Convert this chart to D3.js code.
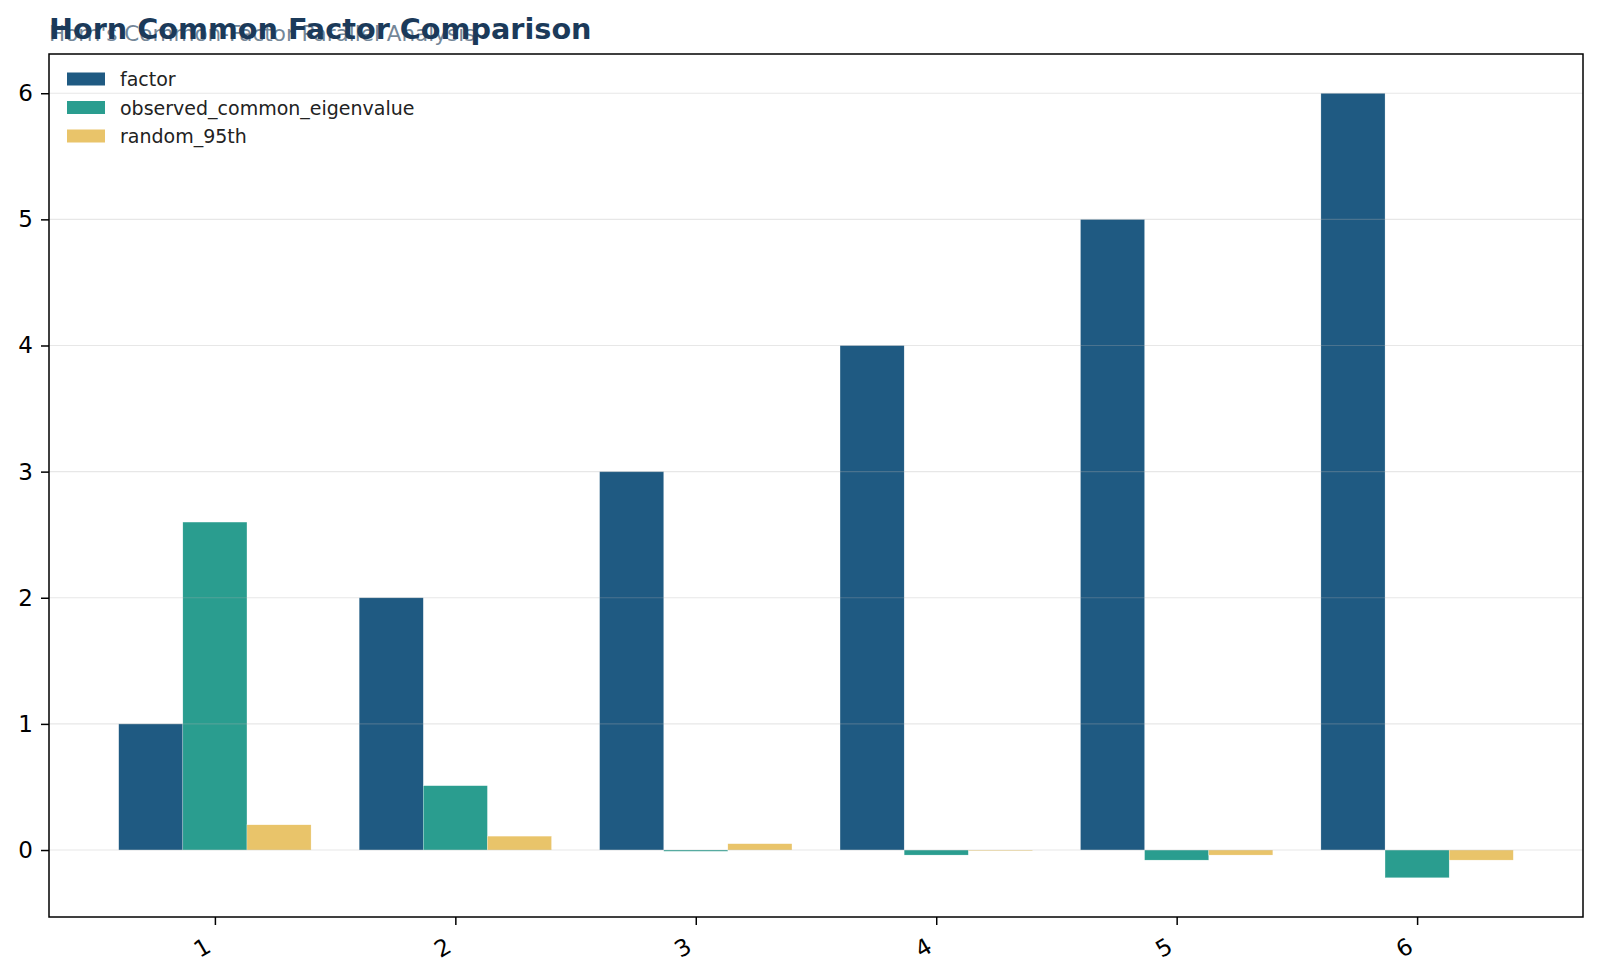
<!DOCTYPE html>
<html><head><meta charset="utf-8">
<script src="https://cdn.jsdelivr.net/npm/d3@7"></script>
<style>body{margin:0;background:#fff}svg{display:block;font-family:"DejaVu Sans",sans-serif}</style>
</head><body><svg id="c" width="1600" height="978"></svg>
<script>
const categories = ["1","2","3","4","5","6"];
const seriesNames = ["factor","observed_common_eigenvalue","random_95th"];
const factor = [1,2,3,4,5,6];
const observed = [2.60,0.51,-0.01,-0.04,-0.08,-0.22];
const random95 = [0.20,0.11,0.05,-0.005,-0.04,-0.08];
const yTicks = [0,1,2,3,4,5,6];
const colors = ["#1f5a82","#2a9d8f","#e9c46a"];
const series = [factor, observed, random95];

const FONT = "DejaVu Sans";
const svg = d3.select("#c");
const L=49,R=1583,T=54,B=917;
const x = d3.scaleLinear().domain([-0.69,5.69]).range([L,R]);
const y = d3.scaleLinear().domain([-0.531,6.311]).range([B,T]);
const bw = 0.8/3;

const gBars = svg.append("g");
series.forEach((vals,si)=>{
  gBars.selectAll(null).data(vals).enter().append("rect")
    .attr("x",(d,i)=>x(i-0.4+si*bw))
    .attr("width",x(bw)-x(0))
    .attr("y",d=>y(Math.max(0,d)))
    .attr("height",d=>Math.abs(y(d)-y(0)))
    .attr("fill",colors[si])
    .attr("stroke","#fff").attr("stroke-width",0.4).attr("stroke-opacity",0.6);
});
// grid over bars
svg.append("g").selectAll("line").data(yTicks).enter().append("line")
  .attr("x1",L).attr("x2",R).attr("y1",d=>y(d)).attr("y2",d=>y(d))
  .attr("stroke","#b0b0b0").attr("stroke-opacity",0.3).attr("stroke-width",1.2);

// axes
const yAxis = d3.axisLeft(y).tickValues(yTicks).tickSize(8).tickPadding(8).tickFormat(d3.format("d"));
const gy = svg.append("g").attr("transform",`translate(${L},0)`).call(yAxis)
  .attr("font-family",FONT).attr("font-size",23);
gy.select(".domain").remove();
gy.selectAll("line").attr("stroke","#000").attr("stroke-width",1.5);
gy.selectAll("text").attr("fill","#000");

const xAxis = d3.axisBottom(x).tickValues(d3.range(6)).tickSize(8).tickFormat(i=>categories[i]);
const gx = svg.append("g").attr("transform",`translate(0,${B})`).call(xAxis)
  .attr("font-family",FONT).attr("font-size",23);
gx.select(".domain").remove();
gx.selectAll("line").attr("stroke","#000").attr("stroke-width",1.5);
gx.selectAll("text").attr("fill","#000")
  .attr("text-anchor","end").attr("dy",null).attr("y",0)
  .attr("transform","translate(-3,34) rotate(-30)");

svg.append("rect").attr("x",L).attr("y",T).attr("width",R-L).attr("height",B-T)
  .attr("fill","none").attr("stroke","#000").attr("stroke-width",1.5);

// legend
const lg = svg.append("g").attr("font-family",FONT);
seriesNames.forEach((n,i)=>{
  const yy = 79 + i*28.5;
  lg.append("rect").attr("x",67).attr("y",yy-6.5).attr("width",38).attr("height",13).attr("fill",colors[i]);
  lg.append("text").attr("x",120).attr("y",yy+7).attr("font-size",19).attr("fill","#222").text(n);
});

// subtitle and title
svg.append("text").attr("x",49).attr("y",41).attr("font-family",FONT).attr("font-size",21.5).attr("fill","#5b7186").attr("fill-opacity",0.85)
  .text("Horn's Common-Factor Parallel Analysis");
svg.append("text").attr("x",49).attr("y",39).attr("font-family",FONT).attr("font-size",28.7).attr("font-weight","bold").attr("fill","#1b3a5a")
  .text("Horn Common Factor Comparison");
</script></body></html>
